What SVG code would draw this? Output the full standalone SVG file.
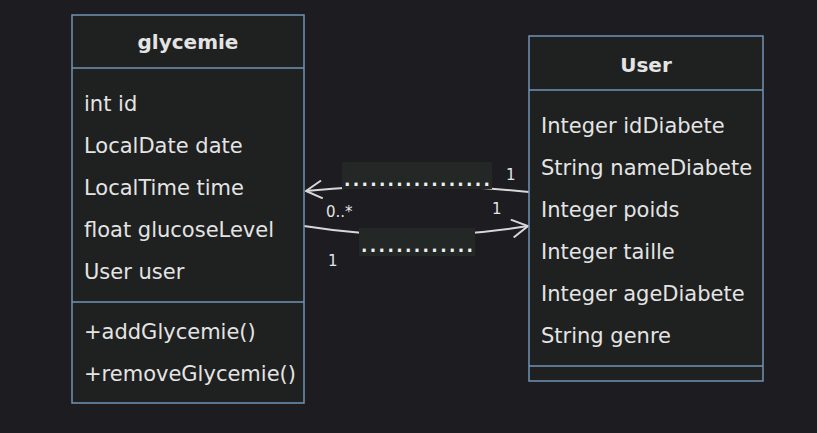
<svg xmlns="http://www.w3.org/2000/svg" width="817" height="433" viewBox="0 0 817 433">
<style>
.bg{fill:#1c1c21}
.box{fill:#1f2020;stroke:#7093b5;stroke-width:1.5}
.div{stroke:#7093b5;stroke-width:1.5}
.t{font-family:"DejaVu Sans",sans-serif;font-size:21px;fill:#e4e4e4}
.title{font-family:"DejaVu Sans",sans-serif;font-size:20px;font-weight:bold;fill:#e4e4e4;text-anchor:middle}
.edge{fill:none;stroke:#d8d8d8;stroke-width:2}
.lbl{fill:#232725}
.dots{font-family:"DejaVu Sans",sans-serif;font-size:17px;font-weight:bold;fill:#f0f0f0}
.card{font-family:"DejaVu Sans",sans-serif;font-size:15px;fill:#e4e4e4}
</style>
<defs>
<marker id="arr" viewBox="0 0 20 20" refX="19" refY="10" markerWidth="20" markerHeight="20" markerUnits="userSpaceOnUse" orient="auto">
<path d="M3,1 L19,10 L3,19" fill="none" stroke="#d8d8d8" stroke-width="2"/>
</marker>
</defs>
<rect class="bg" x="0" y="0" width="817" height="433"/>
<g id="connectors">
<path class="edge" d="M529,192 Q417,180 306,191" marker-end="url(#arr)"/>
<path class="edge" d="M304,226 Q417,244 528,226" marker-end="url(#arr)"/>
<rect class="lbl" x="342" y="162" width="150" height="27"/>
<text class="dots" x="344" y="186" textLength="146" lengthAdjust="spacing">.................</text>
<rect class="lbl" x="359" y="228" width="116" height="28"/>
<text class="dots" x="361" y="252" textLength="112" lengthAdjust="spacing">.............</text>
<text class="card" x="506" y="180">1</text>
<text class="card" x="326" y="217">0..*</text>
<text class="card" x="492" y="214">1</text>
<text class="card" x="328" y="266">1</text>
</g>
<g id="glycemie">
<rect class="box" x="72" y="15" width="232" height="388"/>
<line class="div" x1="72" y1="68" x2="304" y2="68"/>
<line class="div" x1="72" y1="302" x2="304" y2="302"/>
<text class="title" x="188" y="49">glycemie</text>
<text class="t" x="84" y="111">int id</text>
<text class="t" x="84" y="153">LocalDate date</text>
<text class="t" x="84" y="195">LocalTime time</text>
<text class="t" x="84" y="237">float glucoseLevel</text>
<text class="t" x="84" y="279">User user</text>
<text class="t" x="84" y="339">+addGlycemie()</text>
<text class="t" x="84" y="381">+removeGlycemie()</text>
</g>
<g id="User">
<rect class="box" x="529" y="36" width="234" height="345"/>
<line class="div" x1="529" y1="90" x2="763" y2="90"/>
<line class="div" x1="529" y1="366" x2="763" y2="366"/>
<text class="title" x="646" y="72">User</text>
<text class="t" x="541" y="133">Integer idDiabete</text>
<text class="t" x="541" y="175">String nameDiabete</text>
<text class="t" x="541" y="217">Integer poids</text>
<text class="t" x="541" y="259">Integer taille</text>
<text class="t" x="541" y="301">Integer ageDiabete</text>
<text class="t" x="541" y="343">String genre</text>
</g>
</svg>
